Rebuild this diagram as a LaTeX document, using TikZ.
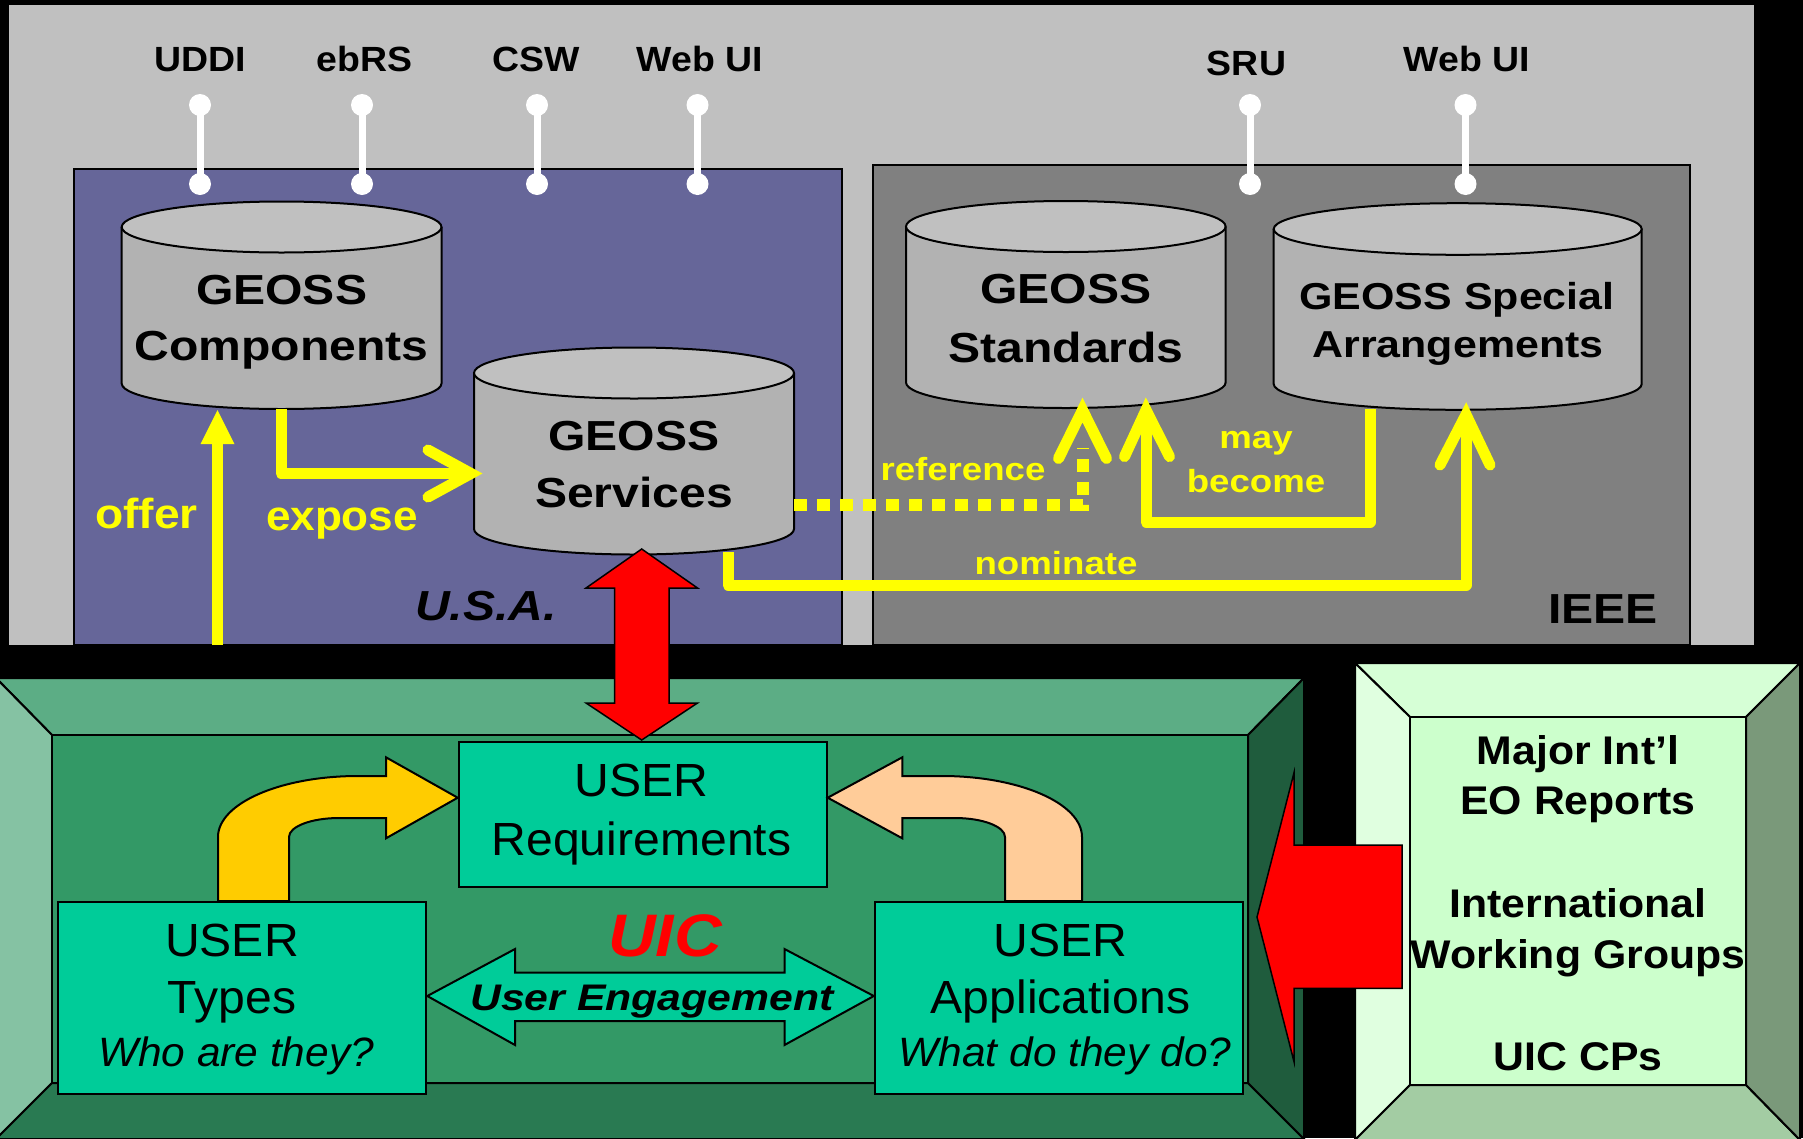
\documentclass[tikz,border=0pt]{standalone}
\usepackage{fontspec}
\setmainfont{Liberation Sans}
\usetikzlibrary{arrows.meta}
\definecolor{bggray}{HTML}{C0C0C0}
\definecolor{usa}{HTML}{666699}
\definecolor{ieee}{HTML}{808080}
\definecolor{cyltop}{HTML}{C0C0C0}
\definecolor{cylbody}{HTML}{B2B2B2}
\definecolor{uicface}{HTML}{339966}
\definecolor{uictop}{HTML}{5CAD85}
\definecolor{uicleft}{HTML}{85C2A3}
\definecolor{uicbottom}{HTML}{297A52}
\definecolor{uicright}{HTML}{1F5C3D}
\definecolor{userbox}{HTML}{00CC99}
\definecolor{igface}{HTML}{CCFFCC}
\definecolor{igtop}{HTML}{D6FFD6}
\definecolor{igleft}{HTML}{E0FFE0}
\definecolor{igbottom}{HTML}{A3CCA3}
\definecolor{igright}{HTML}{7A997A}
\definecolor{gold}{HTML}{FFCC00}
\definecolor{peach}{HTML}{FFCC99}
\definecolor{yel}{HTML}{FFFF00}
\definecolor{redarrow}{HTML}{FF0000}
\newcommand{\myfs}[1]{\fontsize{#1}{#1}\selectfont}
\newcommand{\hs}[2]{\scalebox{#1}[1]{#2}}
\newcommand{\drawcyl}[5]{%
  \pgfmathsetmacro{\cylcx}{(#1+#2)/2}\pgfmathsetmacro{\cylrx}{(#2-#1)/2}%
  \fill[cylbody] (#1,#3) -- (#1,#4) arc[start angle=180,end angle=0,x radius=\cylrx,y radius=#5] -- (#2,#3) -- cycle;
  \draw[cylline] (#1,#3) -- (#1,#4) arc[start angle=180,end angle=0,x radius=\cylrx,y radius=#5] -- (#2,#3);
  \filldraw[cylline,fill=cyltop] (\cylcx,#3) ellipse[x radius=\cylrx,y radius=#5];
}
\tikzset{
  txt/.style={inner sep=0pt,outer sep=0pt,anchor=base},
  lolli/.style={font=\myfs{35}\bfseries},
  cyltxt/.style={font=\myfs{42}\bfseries},
  spectxt/.style={font=\myfs{37.5}\bfseries},
  ybig/.style={font=\myfs{42}\bfseries,text=yel},
  ysmall/.style={font=\myfs{32}\bfseries,text=yel},
  orgtxt/.style={font=\myfs{42}\bfseries\itshape},
  usertxt/.style={font=\myfs{46.5}},
  userit/.style={font=\myfs{41}\itshape},
  igtxt/.style={font=\myfs{40}\bfseries},
  cylline/.style={draw=black,line width=2pt},
  bev/.style={draw=black,line width=2pt,line join=miter},
  yline/.style={draw=yel,line width=11pt,line join=round},
  ychev/.style={draw=yel,line width=11pt,line cap=round,line join=miter},
  ydot/.style={draw=yel,line width=12pt,dash pattern=on 13pt off 10pt},
  stem/.style={draw=white,line width=7pt},
  knob/.style={fill=white},
  boxline/.style={draw=black,line width=2pt},
}
\begin{document}
\begin{tikzpicture}[x=1pt,y=-1pt]
\useasboundingbox (0,0) rectangle (1803,1138);
\fill[black] (0,0) rectangle (1803,1138);
% ===== top region =====
\fill[bggray] (9,5) rectangle (1754,645);
\filldraw[fill=usa,draw=black,line width=2pt] (73.5,169) rectangle (841.5,645);
\filldraw[fill=ieee,draw=black,line width=2pt] (873,165) rectangle (1690,645);
% lollipops
\foreach \lx in {200,362,537,697.5,1250,1465.5}{
  \draw[stem] (\lx,105) -- (\lx,184);
  \fill[knob] (\lx,105) circle[radius=11];
  \fill[knob] (\lx,184) circle[radius=11];
}
\node[txt,lolli] (uddi) at (200,71) {\hs{1.07}{UDDI}};
\node[txt,lolli] (ebrs) at (364.5,71) {\hs{1.07}{ebRS}};
\node[txt,lolli] (csw) at (536,71) {\hs{1.07}{CSW}};
\node[txt,lolli] (webui1) at (700,71) {\hs{1.07}{Web UI}};
\node[txt,lolli] (sru) at (1246.5,75.8) {\hs{1.07}{SRU}};
\node[txt,lolli] (webui2) at (1467,71) {\hs{1.07}{Web UI}};
% cylinders
\drawcyl{121.7}{441.5}{227}{383.5}{25.5}
\drawcyl{474}{794}{373}{529}{25.5}
\drawcyl{906}{1225.6}{226.5}{382.5}{25.5}
\drawcyl{1273.7}{1641.7}{229}{384}{25.8}
\node[txt,cyltxt] (comp1) at (281.6,304) {\hs{1.145}{GEOSS}};
\node[txt,cyltxt] (comp2) at (281.6,360.7) {\hs{1.145}{Components}};
\node[txt,cyltxt] (serv1) at (634,450) {\hs{1.145}{GEOSS}};
\node[txt,cyltxt] (serv2) at (634,507) {\hs{1.145}{Services}};
\node[txt,cyltxt] (stan1) at (1066,303) {\hs{1.145}{GEOSS}};
\node[txt,cyltxt] (stan2) at (1066,362) {\hs{1.145}{Standards}};
\node[txt,spectxt] (spec1) at (1457,309.3) {\hs{1.145}{GEOSS Special}};
\node[txt,spectxt] (spec2) at (1458,357.7) {\hs{1.145}{Arrangements}};
% connector anchor coordinates
\coordinate (compOfferIn) at (217.5,410);
\coordinate (offerFrom) at (217.5,645);
\coordinate (compOut) at (281,409);
\coordinate (servIn) at (471,473.5);
\coordinate (servRef) at (794,505);
\coordinate (stanRef) at (1082.5,410);
\coordinate (specOut) at (1370,409);
\coordinate (stanMay) at (1146,410);
\coordinate (servNom) at (728,552);
\coordinate (specNom) at (1466,414.6);
% offer
\draw[yline,line width=11.5pt] (offerFrom) -- ([yshift=-30]compOfferIn);
\fill[yel] (compOfferIn) -- ++(-17,34) -- ++(34,0) -- cycle;
% expose
\draw[yline] (compOut) -- (compOut |- servIn) -- ([xshift=-8]servIn);
\draw[ychev] ([xshift=-43,yshift=-23.5]servIn) -- (servIn) -- ([xshift=-43,yshift=23.5]servIn);
% reference (dotted)
\draw[ydot] (servRef) -- (servRef -| stanRef) -- ([yshift=-38]stanRef);
\draw[ychev] ([xshift=-24,yshift=-48.5]stanRef) -- (stanRef) -- ([xshift=24,yshift=-48.5]stanRef);
% may become
\draw[yline] (specOut) -- (1370,522) -- (stanMay |- 0,522) -- ([yshift=-8]stanMay);
\draw[ychev] ([xshift=-21.5,yshift=-46.6]stanMay) -- (stanMay) -- ([xshift=23.5,yshift=-46.6]stanMay);
% nominate
\draw[yline] (servNom) -- (728,585) -- (specNom |- 0,585) -- ([yshift=-8]specNom);
\draw[ychev] ([xshift=-26,yshift=-50.4]specNom) -- (specNom) -- ([xshift=24,yshift=-50.4]specNom);
% yellow labels
\node[txt,ybig] (offer) at (146.4,528) {\hs{1.1}{offer}};
\node[txt,ybig] (expose) at (342,530) {\hs{1.05}{expose}};
\node[txt,ysmall] (reference) at (963,480) {\hs{1.145}{reference}};
\node[txt,ysmall] (may) at (1256,448) {\hs{1.145}{may}};
\node[txt,ysmall] (become) at (1256,492.4) {\hs{1.145}{become}};
\node[txt,ysmall] (nominate) at (1056,574.5) {\hs{1.145}{nominate}};
\node[txt,orgtxt] (usa) at (486,620.8) {\hs{1.145}{U.S.A.}};
\node[txt,orgtxt,font=\myfs{42}\bfseries] (ieeelbl) at (1603,623) {\hs{1.145}{IEEE}};
% ===== bottom region: UIC bevel box =====
\filldraw[bev,fill=uictop] (-4,678) -- (1304,678) -- (1248,735) -- (52,735) -- cycle;
\filldraw[bev,fill=uicleft] (-4,678) -- (52,735) -- (52,1083) -- (-4,1139) -- cycle;
\filldraw[bev,fill=uicbottom] (-4,1139) -- (52,1083) -- (1248,1083) -- (1304,1139) -- cycle;
\filldraw[bev,fill=uicright] (1304,678) -- (1304,1139) -- (1248,1083) -- (1248,735) -- cycle;
\filldraw[bev,fill=uicface] (52,735) rectangle (1248,1083);
% light green bevel box
\filldraw[bev,fill=igtop] (1355,663) -- (1800,663) -- (1746,717) -- (1410,717) -- cycle;
\filldraw[bev,fill=igleft] (1355,663) -- (1410,717) -- (1410,1085) -- (1355,1140) -- cycle;
\filldraw[bev,fill=igbottom] (1355,1140) -- (1410,1085) -- (1746,1085) -- (1800,1140) -- cycle;
\filldraw[bev,fill=igright] (1800,663) -- (1800,1140) -- (1746,1085) -- (1746,717) -- cycle;
\filldraw[bev,fill=igface] (1410,717) rectangle (1746,1085);
\node[txt,igtxt] (ig1) at (1578,764) {\hs{1.07}{Major Int’l}};
\node[txt,igtxt] (ig2) at (1578,814) {\hs{1.07}{EO Reports}};
\node[txt,igtxt] (ig3) at (1578,917.3) {\hs{1.07}{International}};
\node[txt,igtxt] (ig4) at (1578,968.3) {\hs{1.07}{Working Groups}};
\node[txt,igtxt] (ig5) at (1578,1070) {\hs{1.07}{UIC CPs}};
% USER boxes
\node[boxline,fill=userbox,minimum width=368,minimum height=145,inner sep=0,anchor=north west] (req) at (457.7,740.7) {};
\node[boxline,fill=userbox,minimum width=368,minimum height=191.5,inner sep=0,anchor=north west] (types) at (57.3,901.2) {};
\node[boxline,fill=userbox,minimum width=368,minimum height=191.5,inner sep=0,anchor=north west] (apps) at (873.8,901.2) {};
% curved arrows
\filldraw[fill=gold,draw=black,line width=2pt,line join=miter]
  (218,901) -- (218,837) arc[start angle=180,end angle=270,x radius=140,y radius=61]
  -- (386,776) -- (386,757.3) -- (req.west |- 0,797.7) -- (386,838.3) -- (386,818) -- (339,818)
  arc[start angle=270,end angle=180,x radius=50,y radius=19] -- (289,901) -- cycle;
\filldraw[fill=peach,draw=black,line width=2pt,line join=miter]
  (1082,901) -- (1082,837) arc[start angle=0,end angle=-90,x radius=140,y radius=61]
  -- (902.3,776) -- (902.3,757.3) -- (req.east |- 0,797.7) -- (902.3,838.3) -- (902.3,818) -- (955,818)
  arc[start angle=-90,end angle=0,x radius=50,y radius=19] -- (1005,901) -- cycle;
% user engagement double arrow
\filldraw[fill=userbox,draw=black,line width=2pt,line join=miter]
  (types.east |- 0,996) -- (515,949) -- (515,972.7) -- (784.5,972.7) -- (784.5,949) -- (apps.west |- 0,996)
  -- (784.5,1045) -- (784.5,1021) -- (515,1021) -- (515,1045) -- cycle;
% texts in user boxes
\node[txt,usertxt] (req1) at (641.5,796.7) {\hs{1.035}{USER}};
\node[txt,usertxt] (req2) at (641.5,855) {\hs{1.035}{Requirements}};
\node[txt,usertxt] (types1) at (232,956.7) {\hs{1.035}{USER}};
\node[txt,usertxt] (types2) at (232,1013.3) {\hs{1.035}{Types}};
\node[txt,userit] (types3) at (236,1066.7) {\hs{1.035}{Who are they?}};
\node[txt,usertxt] (apps1) at (1060.5,956.7) {\hs{1.035}{USER}};
\node[txt,usertxt] (apps2) at (1060.5,1013.3) {\hs{1.035}{Applications}};
\node[txt,userit] (apps3) at (1065,1066.7) {\hs{1.035}{What do they do?}};
\node[txt,font=\myfs{60}\bfseries\itshape,text=redarrow] (uic) at (665,956.7) {\hs{1.1}{UIC}};
\node[txt,font=\myfs{37}\bfseries\itshape] (engage) at (652,1010) {\hs{1.155}{User Engagement}};
% red vertical double arrow
\filldraw[fill=redarrow,draw=black,line width=1.5pt,line join=miter]
  (641.7,549) -- (697.5,588) -- (669,588) -- (669,703) -- (697.5,703) -- (641.7,740)
  -- (586,703) -- (614.5,703) -- (614.5,588) -- (586,588) -- cycle;
% red left arrow
\filldraw[fill=redarrow,draw=black,line width=1.5pt,line join=miter]
  (1402,845) -- (1294,845) -- (1294,772.7) -- (1257,917) -- (1294,1061.7) -- (1294,988.3) -- (1402,988.3) -- cycle;
\end{tikzpicture}
\end{document}
